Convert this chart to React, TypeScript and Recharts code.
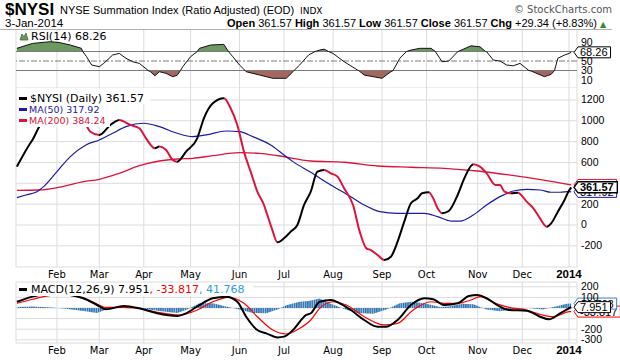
import React from 'react';
import {
  ComposedChart,
  Line,
  Area,
  XAxis,
  YAxis,
  CartesianGrid,
  ReferenceLine,
  ReferenceArea,
} from 'recharts';

// x values are trading-day numbers of 2013 (0 = 2-Jan-2013)
const monthTicks = [21, 40, 60, 81, 103, 123, 145, 167, 187, 210, 230, 251];
const monthLabels = ['Feb', 'Mar', 'Apr', 'May', 'Jun', 'Jul', 'Aug', 'Sep', 'Oct', 'Nov', 'Dec', '2014'];
const xDomain: [number, number] = [2.6, 254.6];

const nysi: [number, number][] = [
  [3, 560], [9, 784], [10, 816], [13, 943], [17, 1060], [21, 1130], [24, 1150], [28, 1080], [32, 1000],
  [34, 960], [36, 895], [40, 864], [45, 960], [47, 990], [49, 1008], [54, 960], [58, 928], [61, 832],
  [65, 736], [67, 752], [70, 720], [73, 624], [75, 608], [79, 704], [84, 832], [87, 1024], [91, 1168],
  [96, 1216], [99, 1120], [102, 960], [105, 704], [108, 512], [111, 320], [114, 192], [115, 128],
  [117.5, -32], [120, -166], [123, -128], [126, -64], [129, 0], [132, 192], [135, 320], [138, 512],
  [141, 528], [144, 496], [147, 464], [150, 352], [154, 192], [157, -64], [160, -224], [162, -240],
  [165, -288], [168, -336], [171, -304], [174, -160], [177, 32], [180, 208], [183, 256], [185, 304],
  [188, 314], [190, 256], [192, 160], [194, 112], [197, 134], [201, 288], [204, 448], [208, 584],
  [211, 560], [214, 496], [218, 384], [220, 384], [222, 320], [225, 304], [228, 310], [232, 224],
  [235, 160], [238, 64], [241, -16], [243, 16], [246, 128], [249, 240], [251, 330], [252, 361.57],
];

const ma50: [number, number][] = [
  [3, 262], [7, 288], [12, 320], [15, 368], [21, 512], [27, 656], [34, 768], [40, 816], [46, 880],
  [52, 944], [60, 976], [67, 944], [75, 880], [82, 848], [88, 864], [97, 902], [103, 896], [109, 848],
  [117, 768], [123, 672], [127, 608], [135, 505], [144, 384], [153, 272], [159, 192], [166, 128],
  [174, 112], [186, 112], [192, 80], [198, 38], [202, 38], [208, 96], [214, 192], [220, 272],
  [226, 326], [232, 342], [238, 336], [243, 314], [247, 314], [251, 320], [252, 317.92],
];

const ma200: [number, number][] = [
  [3, 333], [13, 336], [21, 358], [33, 416], [40, 438], [49, 496], [58, 569], [67, 614], [75, 633],
  [82, 640], [91, 665], [103, 694], [112, 688], [121, 662], [135, 614], [150, 602], [165, 566],
  [180, 554], [195, 544], [210, 518], [224, 480], [239, 432], [252, 384.24],
];

const rsi: [number, number][] = [
  [3, 76.7], [10, 87], [18, 90.7], [22, 89], [27, 83.7], [32, 76.7], [32.6, 70], [34.3, 59], [36.6, 41.6],
  [40, 38], [42, 45], [46, 62.6], [49, 66], [52, 55.7], [55, 48.5], [58, 45], [62, 30], [63, 27.5],
  [65, 19], [67, 27.5], [70, 24], [73, 17], [75, 20], [76.5, 30], [77.5, 38], [81, 59], [84, 70],
  [85, 76.7], [90, 83.7], [96, 85], [98, 70], [100, 59], [103, 41.6], [105.5, 30], [106, 27.5],
  [112, 20.5], [118, 13.6], [124, 13.6], [127, 27.5], [127.5, 30], [130, 41.6], [134, 62.6], [137, 70],
  [139, 73], [141, 75], [143, 70], [145, 66], [150, 48.5], [156, 31], [156.5, 30], [159, 20.5],
  [167, 13.6], [171, 27.5], [172, 30], [175, 55.7], [178, 70], [180, 73], [184, 76.7], [189, 76.7],
  [191, 70], [192, 62.6], [194, 48.5], [197, 50], [201, 69.6], [201.2, 70], [207, 82], [211, 80],
  [213.5, 70], [214, 69.6], [217, 52], [220, 50], [223, 41.6], [226, 40], [229, 45], [233, 30],
  [234, 29], [240, 17], [243, 22], [244.5, 30], [246, 55.7], [249, 62.6], [251, 66], [252, 68.26],
];

const macd: [number, number][] = [
  [3, 59], [10, 107], [13, 123], [18, 140], [23, 145], [27, 123], [33, 92], [39, 28], [43, -12],
  [51, 19], [58, -3], [66, -50], [75, -75], [79, -50], [85, 28], [91, 92], [97, 107], [102, 59],
  [106, -82], [111, -208], [115, -239], [120, -277], [123, -270], [127, -208], [133, -66], [135, -50],
  [139, 59], [144, 75], [148, 44], [153, -19], [159, -113], [165, -176], [169, -176], [174, -113],
  [180, 28], [186, 92], [190, 82], [195, 28], [201, 44], [206, 113], [210, 123], [214, 92], [220, 12],
  [224, -19], [232, -25], [238, -82], [242, -107], [247, -50], [252, 7.951],
];

const signal: [number, number][] = [
  [3, 44], [10, 82], [15, 107], [21, 125], [27, 130], [30, 107], [37, 59], [43, 6], [51, 6], [60, -12],
  [67, -44], [76, -66], [84, -19], [91, 59], [98, 101], [105, 44], [111, -82], [118, -208], [124, -245],
  [130, -192], [135, -113], [139, -3], [145, 59], [151, 28], [159, -82], [168, -160], [174, -145],
  [181, -19], [189, 59], [195, 44], [201, 44], [207, 75], [211, 107], [218, 44], [224, 6], [232, -19],
  [239, -66], [244, -82], [251, -35], [252, -33.817],
];

const hist: [number, number][] = [
  [3, 10], [10, 15], [17, 8], [24, -5], [33, -28], [39, -47], [43, -15], [51, 10], [58, 0], [67, -28],
  [75, -47], [79, -20], [85, 44], [91, 44], [97, 15], [103, -15], [109, -47], [115, -50], [120, -15],
  [124, 25], [130, 60], [134, 67], [139, 90], [144, 40], [150, -10], [156, -47], [163, -55], [169, -15],
  [175, 44], [180, 60], [186, 44], [193, 10], [197, 15], [203, 40], [208, 35], [214, -15], [220, -30],
  [227, -10], [233, 0], [239, -15], [245, 15], [250, 40], [252, 41.768],
];

const mainTicks = [-200, 0, 200, 400, 600, 800, 1000, 1200];
const mainLabeled = [-200, 0, 200, 600, 800, 1000, 1200];
const rsiTicks = [10, 30, 50, 70, 90];
const rsiLabeled = [10, 30, 50, 90];
const macdTicks = [-300, -200, -100, 0, 100, 200];
const macdLabeled = [-300, -200, 100, 200];

const lastNysi = 361.57;
const lastMa50 = 317.92;
const lastMa200 = 384.24;
const lastRsi = 68.26;
const lastMacd = 7.951;
const lastSignal = -33.817;
const lastHist = 41.768;

const BLACK = '#000000';
const CRIMSON = '#dc143c';
const NAVY = '#1a1aa6';
const RED = '#ff0000';
const HIST_DARK = '#2f6ea8';
const HIST_LIGHT = '#9cc2e6';
const GRID = '#dcdcdc';
const BORDER = '#9a9a9a';
const FONT_V = "'DejaVu Sans', Verdana, sans-serif";
const FONT_A = "'Liberation Sans', Arial, sans-serif";

const rows = (a: [number, number][]) => a.map(([d, v]) => ({ d, v }));
const rsiRows = rsi.map(([d, v]) => ({ d, v, hi: [70, Math.max(v, 70)], lo: [Math.min(v, 30), 30] }));

const nysiStops: React.ReactNode[] = [];
{
  const d0 = nysi[0][0];
  const dN = nysi[nysi.length - 1][0];
  for (let i = 1; i < nysi.length; i++) {
    const c = nysi[i][1] > nysi[i - 1][1] ? BLACK : CRIMSON;
    nysiStops.push(<stop key={`a${i}`} offset={(nysi[i - 1][0] - d0) / (dN - d0)} stopColor={c} />);
    nysiStops.push(<stop key={`b${i}`} offset={(nysi[i][0] - d0) / (dN - d0)} stopColor={c} />);
  }
}

function MonthTick(props: any) {
  const { x, y, payload } = props;
  const label = monthLabels[monthTicks.indexOf(payload.value)] ?? '';
  const isYear = /^\d{4}$/.test(label);
  return (
    <text
      x={x}
      y={y + 11}
      textAnchor="middle"
      fontFamily={isYear ? FONT_A : FONT_V}
      fontWeight={isYear ? 'bold' : 'normal'}
      fontSize={isYear ? 11.5 : 10}
      fill="#000"
    >
      {label}
    </text>
  );
}

const makeRightTick = (labeled: number[]) => (props: any) => {
  const { x, y, payload } = props;
  if (!labeled.includes(payload.value)) return <g />;
  return (
    <text x={x} y={y + 3.5} textAnchor="start" fontSize={10.5} fontFamily={FONT_A} fill="#000">
      {payload.value}
    </text>
  );
};

const textW = (s: string, bold: boolean) => {
  let w = 0;
  for (const c of s) w += c === '.' ? 3.06 : c === '-' ? 3.66 : 6.12;
  return bold ? w * 1.02 : w;
};

const makeTag = (text: string, stroke: string, bold = false) => (props: any) => {
  const vb = props.viewBox || {};
  const x = (vb.x ?? 0) + (vb.width ?? 0);
  const y = (vb.y ?? 0) + (vb.height ?? 0) / 2;
  const w = textW(text, bold) + 5;
  const h = 11;
  const d = `M${x - 3},${y} L${x + 1},${y - h / 2} L${x + 1 + w},${y - h / 2} L${x + 1 + w},${y + h / 2} L${x + 1},${y + h / 2} Z`;
  return (
    <g>
      <path d={d} fill="#fff" stroke={stroke} strokeWidth={bold ? 1.4 : 1} />
      <text x={x + 3} y={y + 4} fontSize={11} fontFamily={FONT_A} fontWeight={bold ? 'bold' : 'normal'} fill="#000">
        {text}
      </text>
    </g>
  );
};

const W = 620;
const LEFT = 16;
const AXIS_W = 43;

function RsiPanel() {
  return (
    <ComposedChart width={W} height={58} margin={{ top: 0, right: 0, bottom: 0, left: LEFT }}>
      <XAxis type="number" dataKey="d" domain={xDomain} allowDataOverflow ticks={monthTicks} hide />
      <YAxis
        orientation="right"
        width={AXIS_W}
        type="number"
        domain={[-4.7, 117.4]}
        allowDataOverflow
        ticks={rsiTicks}
        interval={0}
        tick={makeRightTick(rsiLabeled)}
        tickLine={false}
        axisLine={false}
        tickSize={4}
        tickMargin={0}
      />
      <CartesianGrid horizontal={false} stroke={GRID} />
      <Area data={rsiRows} dataKey="hi" type="linear" stroke="none" fill="#6e9862" fillOpacity={1} isAnimationActive={false} />
      <Area data={rsiRows} dataKey="lo" type="linear" stroke="none" fill="#a3675f" fillOpacity={1} isAnimationActive={false} />
      <ReferenceLine y={70} stroke="#7a7a7a" />
      <ReferenceLine y={30} stroke="#7a7a7a" />
      <ReferenceLine y={50} stroke="#7a7a7a" strokeDasharray="6 2 2 2" />
      <Line data={rows(rsi)} dataKey="v" type="linear" stroke="#111" strokeWidth={1} dot={false} isAnimationActive={false} />
      <ReferenceArea fill="none" stroke={BORDER} />
      <ReferenceLine y={lastRsi} stroke="none" label={makeTag('68.26', '#000')} />
    </ComposedChart>
  );
}

function MainPanel() {
  return (
    <ComposedChart width={W} height={196} margin={{ top: 0, right: 0, bottom: 0, left: LEFT }}>
      <defs>
        <linearGradient id="nysiGrad" x1="0" y1="0" x2="1" y2="0">
          {nysiStops}
        </linearGradient>
      </defs>
      <XAxis
        type="number"
        dataKey="d"
        domain={xDomain}
        allowDataOverflow
        ticks={monthTicks}
        interval={0}
        tick={<MonthTick />}
        tickLine={false}
        axisLine={false}
        height={16}
        tickSize={0}
        tickMargin={0}
      />
      <YAxis
        orientation="right"
        width={AXIS_W}
        type="number"
        domain={[-403, 1324]}
        allowDataOverflow
        ticks={mainTicks}
        interval={0}
        tick={makeRightTick(mainLabeled)}
        tickLine={false}
        axisLine={false}
        tickSize={4}
        tickMargin={0}
      />
      <CartesianGrid stroke={GRID} />
      <Line data={rows(ma200)} dataKey="v" type="monotone" stroke={CRIMSON} strokeWidth={1.3} dot={false} isAnimationActive={false} />
      <Line data={rows(ma50)} dataKey="v" type="monotone" stroke={NAVY} strokeWidth={1.2} dot={false} isAnimationActive={false} />
      <Line data={rows(nysi)} dataKey="v" type="monotone" stroke="url(#nysiGrad)" strokeWidth={2} dot={false} isAnimationActive={false} />
      <ReferenceArea fill="none" stroke={BORDER} />
      <ReferenceLine y={lastMa200} stroke="none" label={makeTag('384.24', CRIMSON)} />
      <ReferenceLine y={lastMa50} stroke="none" label={makeTag('317.92', NAVY)} />
      <ReferenceLine y={lastNysi} stroke="none" label={makeTag('361.57', '#000', true)} />
    </ComposedChart>
  );
}

function MacdPanel() {
  return (
    <ComposedChart width={W} height={84} margin={{ top: 6, right: 0, bottom: 0, left: LEFT }}>
      <defs>
        <pattern id="histPat" width={2.226} height={4} patternUnits="userSpaceOnUse">
          <rect x={0} y={0} width={2.226} height={4} fill={HIST_LIGHT} />
          <rect x={0} y={0} width={1.3} height={4} fill={HIST_DARK} />
        </pattern>
      </defs>
      <XAxis
        type="number"
        dataKey="d"
        domain={xDomain}
        allowDataOverflow
        ticks={monthTicks}
        interval={0}
        tick={<MonthTick />}
        tickLine={false}
        axisLine={false}
        height={17}
        tickSize={0}
        tickMargin={0}
      />
      <YAxis
        orientation="right"
        width={AXIS_W}
        type="number"
        domain={[-330, 245]}
        allowDataOverflow
        ticks={macdTicks}
        interval={0}
        tick={makeRightTick(macdLabeled)}
        tickLine={false}
        axisLine={false}
        tickSize={4}
        tickMargin={0}
      />
      <CartesianGrid stroke={GRID} />
      <Area data={rows(hist)} dataKey="v" type="linear" baseValue={0} stroke="none" fill="url(#histPat)" fillOpacity={1} isAnimationActive={false} />
      <Line data={rows(signal)} dataKey="v" type="monotone" stroke={RED} strokeWidth={1.2} dot={false} isAnimationActive={false} />
      <Line data={rows(macd)} dataKey="v" type="monotone" stroke={BLACK} strokeWidth={2} dot={false} isAnimationActive={false} />
      <ReferenceArea fill="none" stroke={BORDER} />
      <ReferenceLine y={lastSignal} stroke="none" label={makeTag('-33.817', RED)} />
      <ReferenceLine y={lastHist} stroke="none" label={makeTag('41.768', '#3f7fbf')} />
      <ReferenceLine y={lastMacd} stroke="none" label={makeTag('7.951', '#000')} />
    </ComposedChart>
  );
}

function Overlay() {
  return (
    <svg width={W} height={360} style={{ position: 'absolute', left: 0, top: 0, pointerEvents: 'none' }}>
      {/* header */}
      <text x={5} y={15} fontFamily={FONT_A} fontWeight="bold" fontSize={17} fill="#000">$NYSI</text>
      <text x={60} y={14} fontFamily={FONT_A} fontSize={11} fill="#000">NYSE Summation Index (Ratio Adjusted) (EOD)</text>
      <text x={300} y={14} fontFamily={FONT_V} fontSize={9} fill="#000">INDX</text>
      <text x={612} y={13} textAnchor="end" fontFamily={FONT_V} fontSize={10} fill="#555">© StockCharts.com</text>
      <text x={5} y={27} fontFamily={FONT_A} fontSize={11.5} fill="#000">3-Jan-2014</text>
      <text x={597} y={27} textAnchor="end" fontFamily={FONT_A} fontSize={11} fill="#000">
        <tspan fontWeight="bold">Open</tspan> 361.57 <tspan fontWeight="bold">High</tspan> 361.57{' '}
        <tspan fontWeight="bold">Low</tspan> 361.57 <tspan fontWeight="bold">Close</tspan> 361.57{' '}
        <tspan fontWeight="bold">Chg</tspan> +29.34 (+8.83%)
      </text>
      <text x={600} y={27} fontFamily={FONT_V} fontSize={8} fill="#2e8b2e">▲</text>
      <line x1={0} y1={29.5} x2={612} y2={29.5} stroke="#b0b0b0" />

      {/* RSI legend */}
      <path d="M20,40 L22,34 L24,37 L26,33 L28,40 Z" fill="#6e9862" stroke="#3d6b34" strokeWidth={0.8} />
      <text x={31} y={40} fontFamily={FONT_V} fontSize={11} fill="#000">RSI(14) 68.26</text>

      {/* main legend */}
      <rect x={17} y={88} width={133} height={16} fill="#fff" />
      <rect x={17} y={104} width={86} height={11} fill="#fff" />
      <rect x={17} y={115} width={93} height={12} fill="#fff" />
      <rect x={19} y={97} width={8} height={3} fill={BLACK} />
      <text x={30} y={101.5} fontFamily={FONT_V} fontSize={11} fill="#000">$NYSI (Daily) 361.57</text>
      <rect x={19} y={108} width={8} height={3} fill={NAVY} />
      <text x={29} y={112.5} fontFamily={FONT_V} fontSize={9.5} fill={NAVY}>MA(50) 317.92</text>
      <rect x={19} y={119} width={8} height={3} fill={CRIMSON} />
      <text x={29} y={123.5} fontFamily={FONT_V} fontSize={9.5} fill={CRIMSON}>MA(200) 384.24</text>

      {/* MACD legend */}
      <rect x={17} y={283} width={236} height={13} fill="#fff" />
      <rect x={19} y={288} width={8} height={3} fill={BLACK} />
      <text x={31} y={293} fontFamily={FONT_V} fontSize={11} fill="#000">
        MACD(12,26,9) 7.951<tspan fill={RED}>, -33.817</tspan>
        <tspan fill="#3399dd">, 41.768</tspan>
      </text>
    </svg>
  );
}

export default function App() {
  return (
    <div style={{ position: 'absolute', left: 0, top: 0, width: W, height: 360, background: '#fff', overflow: 'hidden' }}>
      <div style={{ position: 'absolute', left: 0, top: 29 }}>
        <RsiPanel />
      </div>
      <div style={{ position: 'absolute', left: 0, top: 87 }}>
        <MainPanel />
      </div>
      <div style={{ position: 'absolute', left: 0, top: 276 }}>
        <MacdPanel />
      </div>
      <Overlay />
    </div>
  );
}
